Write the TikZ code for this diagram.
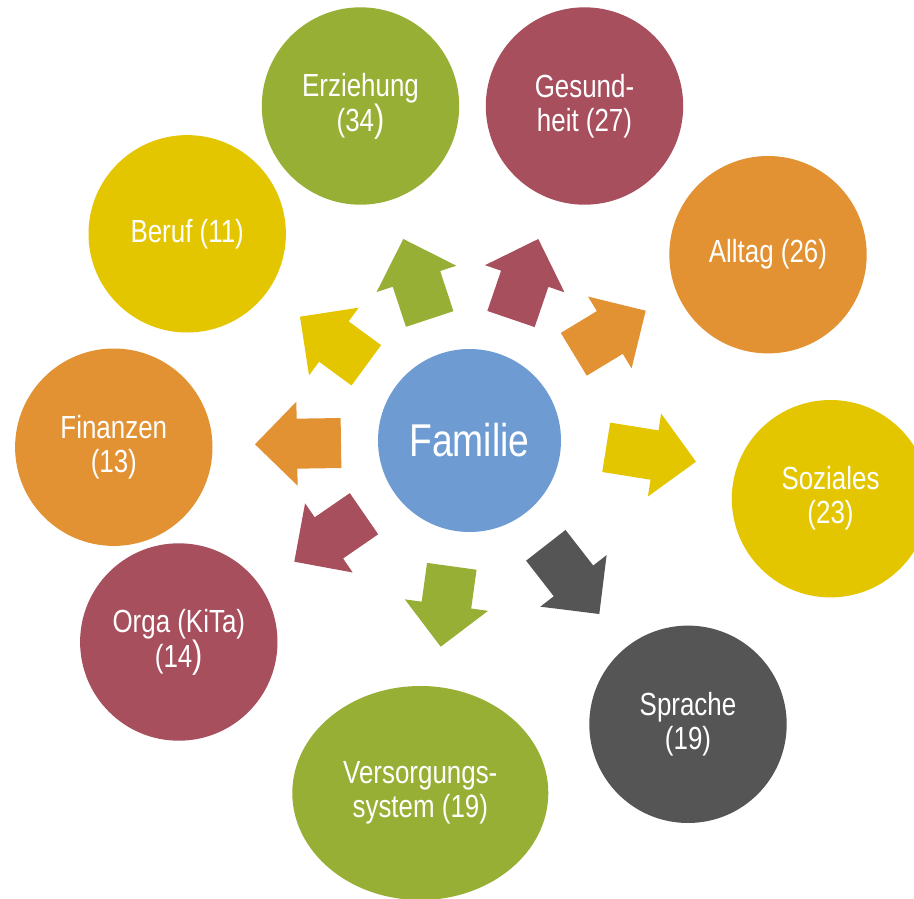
\documentclass[tikz,border=0pt]{standalone}
\usepackage{fontspec}
\setmainfont{Liberation Sans}[FakeStretch=0.81]
\usetikzlibrary{calc,shapes.geometric}
\definecolor{cgreen}{HTML}{98AF35}
\definecolor{cmaroon}{HTML}{A84F5E}
\definecolor{corange}{HTML}{E29233}
\definecolor{cyellow}{HTML}{E4C600}
\definecolor{cgray}{HTML}{555555}
\definecolor{cblue}{HTML}{6D9BD2}
\newcommand\blockarr[4]{% name, colour, tail, tip
  \coordinate (#1s) at ($(#4)!42pt!(#3)$);
  \fill[#2] ($(#3)!25pt!90:(#4)$) -- ($(#1s)!25pt!90:(#4)$) -- ($(#1s)!42pt!90:(#4)$)
    -- (#4) -- ($(#1s)!42pt!-90:(#4)$) -- ($(#1s)!25pt!-90:(#4)$) -- ($(#3)!25pt!-90:(#4)$) -- cycle;
}
\newcommand\bigpar{{\fontsize{38}{34}\selectfont)}}
\begin{document}
\begin{tikzpicture}[x=1pt,y=-1pt,
  topic/.style={circle,minimum size=197.4pt,inner sep=0pt,outer sep=0pt,text=white,
    align=center,font=\fontsize{32}{34}\selectfont},
  hub/.style={circle,minimum size=183pt,inner sep=0pt,fill=cblue,text=white,
    font=\fontsize{46}{50}\selectfont}]
\useasboundingbox (0,0) rectangle (914,898);
\clip (0,0) rectangle (914,898);
\fill[white] (0,0) rectangle (914,898);

\node[hub] (fam) at (469.5,440.5) {Familie};

\node[topic,fill=cgreen]  (erz) at (360.5,106) {Erziehung\\(34\bigpar};
\node[topic,fill=cmaroon] (ges) at (584.5,106) {Gesund-\\heit (27)};
\node[topic,fill=corange] (all) at (768,254.7) {Alltag (26)};
\node[topic,fill=cyellow] (soz) at (830.5,498.7) {Soziales\\(23)};
\node[topic,fill=cgray]   (spr) at (688,724.3) {Sprache\\(19)};
\node[ellipse,minimum width=256pt,minimum height=214pt,inner sep=0pt,fill=cgreen,
  text=white,align=center,font=\fontsize{32}{34}\selectfont] (ver) at (420.3,793) {Versorgungs-\\system (19)};
\node[topic,fill=cmaroon] (org) at (178.8,642) {Orga (KiTa)\\(14\bigpar};
\node[topic,fill=corange] (fin) at (113.8,447.2) {Finanzen\\(13)};
\node[topic,fill=cyellow] (ber) at (187.2,233.8) {Beruf (11)};

\coordinate (t1) at (366.3,365.3); \coordinate (p1) at (300,316.7);
\coordinate (t2) at (429.7,319);   \coordinate (p2) at (403.3,239);
\coordinate (t3) at (511,319);     \coordinate (p3) at (538.3,239);
\coordinate (t4) at (573.8,354.3); \coordinate (p4) at (645.7,310.7);
\coordinate (t5) at (606.2,447.3); \coordinate (p5) at (696,461.7);
\coordinate (t6) at (545.8,545.3); \coordinate (p6) at (599.3,614);
\coordinate (t7) at (451.8,566.3); \coordinate (p7) at (440.7,646.7);
\coordinate (t8) at (364,513.7);   \coordinate (p8) at (294.3,561.7);
\coordinate (t9) at (341,443);     \coordinate (p9) at (255,444.3);

\blockarr{a1}{cyellow}{t1}{p1}
\blockarr{a2}{cgreen}{t2}{p2}
\blockarr{a3}{cmaroon}{t3}{p3}
\blockarr{a4}{corange}{t4}{p4}
\blockarr{a5}{cyellow}{t5}{p5}
\blockarr{a6}{cgray}{t6}{p6}
\blockarr{a7}{cgreen}{t7}{p7}
\blockarr{a8}{cmaroon}{t8}{p8}
\blockarr{a9}{corange}{t9}{p9}
\end{tikzpicture}
\end{document}
